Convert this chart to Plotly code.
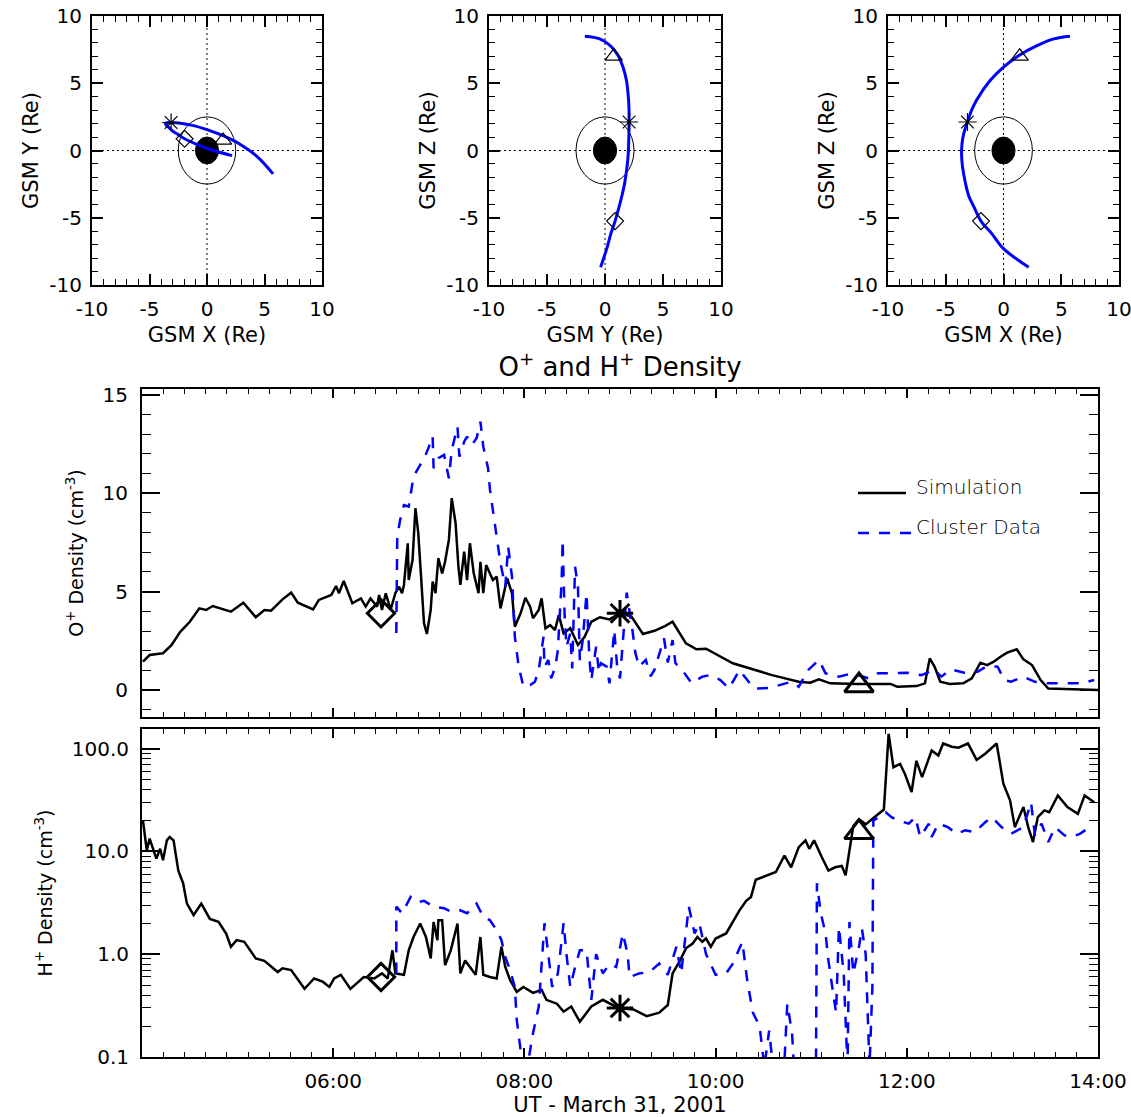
import plotly.graph_objects as go

W, H = 1131, 1117
FONT = "DejaVu Sans"

# ---------------- Cluster orbit (GSM, Re), ordered in time ----------------
orbit_x = [2.18, 0.0, -1.0, -1.95, -2.5, -3.0, -3.3, -3.55, -3.63, -3.58, -3.43, -3.12, -2.76,
           -2.3, -1.16, 0.0, 1.4, 2.9, 4.36, 5.75]
orbit_y = [-0.38, 0.15, 0.5, 0.87, 1.18, 1.45, 1.7, 1.9, 2.0, 2.04, 2.06, 2.08, 2.07,
           2.03, 1.85, 1.55, 1.1, 0.45, -0.45, -1.74]
orbit_z = [-8.68, -7.3, -6.2, -5.25, -4.3, -3.4, -2.4, -1.2, -0.3, 0.6, 1.3, 2.12, 3.0,
           3.8, 5.2, 6.2, 7.1, 7.8, 8.3, 8.5]

# Reference times (06:30, 09:00, 11:30 UT) and the spacecraft position there
event_time = [6.5, 9.0, 11.5]
event_symbol = ["diamond", "asterisk-open", "triangle-up"]
event_x = [-1.95, -3.12, 1.4]
event_y = [0.87, 2.08, 0.75]
event_z = [-5.25, 2.12, 7.0]
event_oplus = [3.9, 3.9, 0.23]
event_hplus = [0.60, 0.30, 15.3]

EARTH_R = 1.0      # Earth radius (Re)
INNER_R = 2.5      # reference shell (Re)

# ---------------- O+ density (cm^-3), time in decimal UT hours ----------------
sim_o_t = [4.01, 4.08, 4.22, 4.31, 4.40, 4.50, 4.60, 4.67, 4.74, 4.93, 5.06, 5.19, 5.28, 5.35,
           5.47, 5.56, 5.63, 5.79, 5.85, 5.98, 6.03, 6.06, 6.11, 6.20, 6.29, 6.34, 6.39, 6.46,
           6.48, 6.51, 6.55, 6.60, 6.65, 6.69, 6.72, 6.74, 6.78, 6.79, 6.83, 6.86, 6.89, 6.91,
           6.95, 6.98, 7.02, 7.04, 7.07, 7.10, 7.14, 7.17, 7.21, 7.24, 7.28, 7.31, 7.33, 7.37,
           7.40, 7.43, 7.47, 7.52, 7.54, 7.57, 7.60, 7.67, 7.71, 7.75, 7.80, 7.82, 7.87, 7.90,
           7.96, 8.01, 8.06, 8.09, 8.15, 8.18, 8.22, 8.27, 8.32, 8.36, 8.41, 8.48, 8.56, 8.63,
           8.70, 8.79, 8.89, 9.00, 9.12, 9.24, 9.36, 9.47, 9.55, 9.69, 9.80, 9.90, 10.18, 10.35,
           10.59, 10.87, 10.99, 11.08, 11.20, 11.48, 11.83, 11.90, 12.10, 12.19, 12.24, 12.29,
           12.35, 12.45, 12.59, 12.68, 12.77, 12.84, 12.91, 12.98, 13.05, 13.15, 13.22, 13.31,
           13.40, 13.48, 14.00]
sim_o_n = [1.44, 1.78, 1.87, 2.29, 2.96, 3.47, 4.15, 4.07, 4.27, 3.98, 4.44, 3.70, 4.07, 4.03,
           4.61, 4.95, 4.44, 4.10, 4.58, 4.83, 5.29, 4.92, 5.54, 4.41, 4.66, 4.24, 4.66, 4.24,
           4.83, 4.07, 4.92, 4.07, 4.92, 5.25, 4.92, 5.34, 7.46, 5.59, 6.61, 9.24, 7.97, 6.27,
           3.39, 2.85, 4.07, 5.51, 4.92, 6.70, 5.93, 6.52, 7.63, 9.75, 8.48, 6.27, 5.34, 7.03,
           5.59, 7.46, 5.93, 4.92, 6.52, 4.92, 6.35, 5.59, 5.76, 4.15, 5.34, 5.68, 4.92, 3.22,
           3.90, 4.69, 4.24, 3.65, 4.07, 4.66, 3.14, 3.30, 3.05, 3.81, 2.88, 3.14, 2.29, 2.71,
           3.47, 3.70, 3.59, 3.90, 3.73, 2.85, 3.01, 3.25, 3.47, 2.37, 2.07, 2.10, 1.36, 1.10,
           0.76, 0.42, 0.37, 0.54, 0.34, 0.31, 0.31, 0.17, 0.20, 0.34, 1.61, 1.19,
           0.42, 0.31, 0.34, 0.59, 1.39, 1.27, 1.44, 1.69, 1.90, 2.07, 1.56, 1.27,
           0.51, 0.08, 0.00]

clu_o_t = [6.66, 6.67, 6.70, 6.74, 6.79, 6.84, 6.91, 6.96, 7.02, 7.04, 7.05, 7.10, 7.16, 7.21,
           7.24, 7.30, 7.32, 7.37, 7.40, 7.45, 7.50, 7.54, 7.57, 7.62, 7.64, 7.68, 7.71, 7.75,
           7.80, 7.83, 7.87, 7.90, 7.94, 7.99, 8.06, 8.11, 8.15, 8.20, 8.21, 8.25, 8.28, 8.30,
           8.33, 8.35, 8.39, 8.40, 8.42, 8.44, 8.48, 8.50, 8.53, 8.56, 8.58, 8.61, 8.65, 8.68,
           8.70, 8.75, 8.78, 8.80, 8.86, 8.89, 8.94, 8.97, 9.00, 9.07, 9.13, 9.16, 9.20, 9.27,
           9.32, 9.36, 9.46, 9.50, 9.55, 9.58, 9.65, 9.75, 9.86, 9.94,
           10.05, 10.14, 10.25, 10.40, 10.56, 10.68, 10.79, 10.87, 10.97, 11.08, 11.15, 11.29,
           11.43, 11.60, 11.70, 11.84, 12.01, 12.15, 12.29, 12.36, 12.46, 12.60, 12.74, 12.84,
           12.95, 13.02, 13.09, 13.22, 13.34, 13.48, 13.65, 13.82, 13.96]
clu_o_n = [2.90, 7.80, 8.64, 9.40, 9.32, 10.85, 11.44, 11.86, 12.60, 12.90, 11.27, 11.78, 11.95, 10.76,
           12.20, 13.39, 11.86, 12.62, 12.88, 12.46, 12.80, 13.64, 12.37, 11.27, 10.17, 8.81, 7.63, 6.44,
           5.25, 7.29, 5.76, 2.71, 1.19, 0.17, 0.25, 0.42, 1.02, 2.71, 1.19, 1.53, 0.60, 0.85,
           1.40, 2.03, 5.59, 7.63, 3.90, 2.20, 2.88, 1.10, 6.27, 5.25, 1.50, 2.54, 4.92, 1.60,
           0.51, 2.20, 0.90, 1.36, 1.19, 0.34, 3.05, 1.20, 0.59, 4.95, 3.05, 1.90, 1.19, 1.53,
           0.70, 1.02, 2.63, 1.40, 2.54, 1.36, 1.02, 0.34, 0.68, 0.76,
           0.51, 0.08, 1.02, 0.08, 0.10, 0.25, 0.42, 0.17, 1.02, 1.53, 0.85, 0.68,
           0.85, 0.59, 0.85, 0.85, 0.88, 0.76, 1.02, 0.68, 1.05, 0.88, 0.93, 1.22,
           1.19, 0.51, 0.42, 0.68, 0.42, 0.34, 0.34, 0.34, 0.51]

# ---------------- H+ density (cm^-3) ----------------
sim_h_t = [4.01, 4.05, 4.08, 4.12, 4.15, 4.19, 4.22, 4.26, 4.29, 4.33, 4.38, 4.43, 4.47, 4.54,
           4.62, 4.71, 4.80, 4.88, 4.93, 4.99, 5.07, 5.19, 5.28, 5.42, 5.47, 5.56, 5.70, 5.80,
           5.89, 5.96, 6.01, 6.08, 6.18, 6.32, 6.43, 6.51, 6.57, 6.62, 6.65, 6.74, 6.79, 6.84,
           6.91, 6.97, 7.02, 7.05, 7.09, 7.10, 7.14, 7.17, 7.23, 7.30, 7.33, 7.38, 7.43, 7.49,
           7.54, 7.57, 7.64, 7.71, 7.76, 7.80, 7.85, 7.92, 7.99, 8.09, 8.18, 8.23, 8.34, 8.41,
           8.49, 8.58, 8.70, 8.82, 8.98, 9.14, 9.28, 9.41, 9.50, 9.55, 9.62, 9.69, 9.76, 9.81,
           9.86, 9.90, 9.95, 10.00, 10.11, 10.18, 10.25, 10.32, 10.37, 10.42, 10.53, 10.63, 10.72,
           10.79, 10.87, 10.94, 10.98, 11.03, 11.11, 11.18, 11.25, 11.32, 11.36, 11.44, 11.50,
           11.57, 11.67, 11.76, 11.81, 11.86, 11.93, 11.98, 12.05, 12.10, 12.16, 12.21, 12.26,
           12.33, 12.38, 12.47, 12.54, 12.64, 12.73, 12.82, 12.94, 13.01, 13.08, 13.13, 13.22,
           13.27, 13.32, 13.37, 13.44, 13.49, 13.58, 13.68, 13.79, 13.86, 13.96]
sim_h_n = [20.0, 10.2, 13.3, 10.2, 8.5, 10.6, 8.2, 12.8, 13.8, 12.8, 6.5, 4.9, 3.1, 2.4,
           3.1, 2.2, 2.06, 1.59, 1.18, 1.37, 1.32, 0.91, 0.86, 0.67, 0.73, 0.70, 0.46, 0.58,
           0.54, 0.48, 0.58, 0.63, 0.46, 0.60, 0.58, 0.65, 0.58, 1.09, 0.65, 0.63, 1.09, 1.47,
           1.99, 1.47, 0.91, 2.06, 1.37, 2.14, 2.14, 0.78, 1.09, 1.99, 0.65, 0.87, 0.75, 0.63,
           1.47, 0.63, 0.60, 0.58, 1.18, 0.75, 0.56, 0.43, 0.48, 0.42, 0.45, 0.36, 0.33, 0.276,
           0.31, 0.22, 0.31, 0.36, 0.30, 0.29, 0.25, 0.27, 0.32, 0.65, 0.84, 1.14, 1.27, 1.47,
           1.32, 1.42, 1.18, 1.42, 1.59, 2.06, 2.67, 3.3, 3.6, 5.3, 5.85, 6.3, 9.1,
           7.0, 11.0, 12.8, 10.6, 12.8, 8.8, 6.5, 7.0, 7.2, 5.85, 17.6, 20.5,
           18.3, 21.8, 25.5, 139.0, 65.8, 71.0, 56.7, 37.8, 76.0, 52.7, 71.0, 95.7,
           85.5, 112.0, 104.0, 102.0, 112.0, 77.5, 89.0, 112.0, 45.5, 31.3, 17.2, 27.0,
           17.2, 12.3, 21.5, 25.0, 24.0, 35.0, 27.0, 23.2, 35.0, 30.0]

clu_h_t = [6.66, 6.66, 6.72, 6.81, 6.88, 6.95, 7.05, 7.16, 7.23, 7.33, 7.40, 7.50, 7.57, 7.64,
           7.71, 7.76, 7.80, 7.85, 7.90, 7.92, 7.96, 7.99, 8.04, 8.09, 8.15, 8.18, 8.21, 8.25,
           8.29, 8.35, 8.41, 8.44, 8.48, 8.53, 8.58, 8.65, 8.70, 8.75, 8.82, 8.89, 8.96, 9.03,
           9.08, 9.10, 9.20, 9.31, 9.41, 9.50, 9.59, 9.64, 9.67, 9.72, 9.78, 9.83, 9.90, 10.00,
           10.11, 10.18, 10.28, 10.33, 10.39, 10.46, 10.51, 10.56, 10.60, 10.72, 10.75, 10.80,
           10.82, 11.05, 11.06, 11.10, 11.15, 11.18, 11.22, 11.26, 11.29, 11.34, 11.38, 11.40,
           11.44, 11.50, 11.53, 11.57, 11.61, 11.64, 11.65, 11.71, 11.78, 11.84, 11.91, 12.02,
           12.09, 12.14, 12.23, 12.26, 12.33, 12.43, 12.52, 12.61, 12.71, 12.82, 12.89, 12.99,
           13.09, 13.22, 13.30, 13.34, 13.41, 13.48, 13.55, 13.65, 13.72, 13.81, 13.89, 13.96]
clu_h_n = [0.65, 2.9, 2.5, 3.6, 3.2, 3.3, 2.9, 2.8, 2.6, 2.67, 2.5, 3.1, 2.3, 2.14,
           1.71, 1.37, 0.94, 0.70, 0.48, 0.23, 0.117, 0.08, 0.09, 0.17, 0.31, 0.87, 2.0, 1.0,
           0.48, 0.65, 2.0, 1.0, 0.48, 0.75, 1.09, 1.09, 0.36, 1.0, 0.65, 0.80, 0.75, 1.59,
           1.0, 0.60, 0.65, 0.67, 0.81, 0.63, 1.18, 0.65, 1.09, 2.9, 1.59, 2.0, 1.0, 0.63,
           0.65, 0.81, 1.32, 0.56, 0.27, 0.20, 0.08, 0.18, 0.08, 0.09, 0.33, 0.17,
           0.08, 0.08, 4.9, 2.5, 1.59, 0.87, 0.48, 0.27, 1.84, 0.65, 0.08, 2.06,
           0.65, 1.18, 1.78, 1.0, 0.08, 0.48, 20.0, 21.5, 24.0, 21.5, 20.0, 18.6,
           21.5, 13.8, 18.6, 13.8, 18.6, 17.2, 14.8, 16.0, 15.4, 19.2, 21.5, 17.2,
           14.8, 17.2, 30.0, 14.3, 18.6, 12.3, 17.2, 14.3, 13.8, 14.8, 16.6, 17.9]

gsm_tickvals = [-10, -5, 0, 5, 10]
gsm_ticktext = ["-10", "-5", "0", "5", "10"]
time_tickvals = [6, 8, 10, 12, 14]
time_ticktext = ["06:00", "08:00", "10:00", "12:00", "14:00"]
h_tickvals = [0.1, 1, 10, 100]
h_ticktext = ["0.1", "1.0", "10.0", "100.0"]
h_minor = [m * d for d in (0.1, 1, 10, 100) for m in range(2, 10)]


def fx(px):
    return px / W


def fy(py):
    return 1 - py / H


def event_markers(sizes, width):
    # hollow black symbols: transparent fill, black outline
    return dict(symbol=event_symbol, size=sizes, color=["rgba(0,0,0,0)", "black", "rgba(0,0,0,0)"],
                opacity=1, line=dict(color="black", width=width))


fig = go.Figure()

# ---------------- orbit panels ----------------
panels = [
    ("x", "y", orbit_x, orbit_y, event_x, event_y, "GSM X (Re)", "GSM Y (Re)", (92, 322)),
    ("x2", "y2", orbit_y, orbit_z, event_y, event_z, "GSM Y (Re)", "GSM Z (Re)", (489, 721)),
    ("x3", "y3", orbit_x, orbit_z, event_x, event_z, "GSM X (Re)", "GSM Z (Re)", (888, 1119)),
]

shapes = []
for i, (xa, ya, ox, oy, ex, ey, xt, yt, (l, r)) in enumerate(panels):
    fig.add_trace(go.Scatter(x=ox, y=oy, xaxis=xa, yaxis=ya, mode="lines",
                             line=dict(color="#0000ff", width=3, shape="spline", smoothing=1.0),
                             showlegend=False, hoverinfo="skip"))
    fig.add_trace(go.Scatter(x=ex, y=ey, xaxis=xa, yaxis=ya, mode="markers",
                             marker=event_markers([13, 15, 15], 1.2),
                             showlegend=False, hoverinfo="skip"))
    shapes += [
        dict(type="line", xref=xa, yref=ya, x0=-10, x1=10, y0=0, y1=0, layer="below",
             line=dict(color="black", width=1, dash="2px,3px")),
        dict(type="line", xref=xa, yref=ya, x0=0, x1=0, y0=-10, y1=10, layer="below",
             line=dict(color="black", width=1, dash="2px,3px")),
        dict(type="circle", xref=xa, yref=ya, x0=-INNER_R, x1=INNER_R, y0=-INNER_R, y1=INNER_R,
             layer="below", line=dict(color="black", width=1)),
        dict(type="circle", xref=xa, yref=ya, x0=-EARTH_R, x1=EARTH_R, y0=-EARTH_R, y1=EARTH_R,
             layer="below", fillcolor="black", line=dict(color="black", width=1)),
    ]
    sfx = "" if i == 0 else str(i + 1)
    common = dict(range=[-10, 10], showline=True, linecolor="black", linewidth=2, mirror="ticks",
                  ticks="inside", ticklen=11, tickwidth=1.5, tickcolor="black",
                  tickvals=gsm_tickvals, ticktext=gsm_ticktext, showgrid=False, zeroline=False,
                  tickfont=dict(family=FONT, size=20, color="black"),
                  minor=dict(ticks="inside", ticklen=6, tickwidth=1.2, dtick=1, tickcolor="black",
                             showgrid=False))
    fig.layout["xaxis" + sfx] = dict(common, domain=[fx(l), fx(r)], anchor=ya, ticklabelstandoff=5,
                                     ticklabeloverflow="allow",
                                     title=dict(text=xt, standoff=7,
                                                font=dict(family=FONT, size=21, color="black")))
    fig.layout["yaxis" + sfx] = dict(common, domain=[fy(285), fy(16)], anchor=xa,
                                     ticklabelstandoff=4,
                                     title=dict(text=yt, standoff=5,
                                                font=dict(family=FONT, size=21, color="black")))

# ---------------- O+ density ----------------
fig.add_trace(go.Scatter(x=sim_o_t, y=sim_o_n, xaxis="x4", yaxis="y4", mode="lines",
                         line=dict(color="black", width=2.5), name="Simulation",
                         showlegend=False, hoverinfo="skip"))
fig.add_trace(go.Scatter(x=clu_o_t, y=clu_o_n, xaxis="x4", yaxis="y4", mode="lines",
                         line=dict(color="#0000ff", width=2.5, dash="11px,10px"), name="Cluster Data",
                         showlegend=False, hoverinfo="skip"))
fig.add_trace(go.Scatter(x=event_time, y=event_oplus, xaxis="x4", yaxis="y4", mode="markers",
                         marker=event_markers([21, 22, 25], 3),
                         showlegend=False, hoverinfo="skip"))

# ---------------- H+ density ----------------
fig.add_trace(go.Scatter(x=sim_h_t, y=sim_h_n, xaxis="x5", yaxis="y5", mode="lines",
                         line=dict(color="black", width=2.5), showlegend=False, hoverinfo="skip"))
fig.add_trace(go.Scatter(x=clu_h_t, y=clu_h_n, xaxis="x5", yaxis="y5", mode="lines",
                         line=dict(color="#0000ff", width=2.5, dash="11px,10px"),
                         showlegend=False, hoverinfo="skip"))
fig.add_trace(go.Scatter(x=event_time, y=event_hplus, xaxis="x5", yaxis="y5", mode="markers",
                         marker=event_markers([21, 22, 25], 3),
                         showlegend=False, hoverinfo="skip"))

tfont = dict(family=FONT, size=20, color="black")
time_axis = dict(range=[4.0, 14.0], showline=True, linecolor="black", linewidth=2, mirror="ticks",
                 ticks="inside", ticklen=9, tickwidth=1.5, tickcolor="black",
                 tickvals=time_tickvals, ticktext=time_ticktext, showgrid=False, zeroline=False,
                 tickfont=tfont, ticklabeloverflow="allow",
                 minor=dict(ticks="inside", ticklen=5, tickwidth=1.2, dtick=2 / 9, tick0=0,
                            tickcolor="black", showgrid=False))
fig.layout.xaxis4 = dict(time_axis, domain=[fx(142), fx(1098)], anchor="y4", showticklabels=False)
fig.layout.xaxis5 = dict(time_axis, domain=[fx(142), fx(1098)], anchor="y5", ticklabelstandoff=5,
                         title=dict(text="UT - March 31, 2001", standoff=2,
                                    font=dict(family=FONT, size=21, color="black")))
fig.layout.yaxis4 = dict(domain=[fy(717), fy(389)], anchor="x4", range=[-1.37, 15.3],
                         showline=True, linecolor="black", linewidth=2, mirror="ticks",
                         ticks="inside", ticklen=18, tickwidth=1.5, tickcolor="black",
                         tickvals=[0, 5, 10, 15], showgrid=False, zeroline=False, tickfont=tfont,
                         ticklabelstandoff=8,
                         minor=dict(ticks="inside", ticklen=9, tickwidth=1.2, dtick=1,
                                    tickcolor="black", showgrid=False),
                         title=dict(text="O<sup>+</sup> Density (cm<sup>-3</sup>)", standoff=14,
                                    font=dict(family=FONT, size=19, color="black")))
fig.layout.yaxis5 = dict(domain=[fy(1057), fy(729)], anchor="x5", type="log", range=[-1.0, 2.19],
                         showline=True, linecolor="black", linewidth=2, mirror="ticks",
                         ticks="inside", ticklen=18, tickwidth=1.5, tickcolor="black",
                         tickvals=h_tickvals, ticktext=h_ticktext, showgrid=False, zeroline=False,
                         tickfont=tfont, ticklabelstandoff=7,
                         minor=dict(ticks="inside", ticklen=9, tickwidth=1.2, tickmode="array",
                                    tickvals=h_minor, tickcolor="black", showgrid=False),
                         title=dict(text="H<sup>+</sup> Density (cm<sup>-3</sup>)", standoff=14,
                                    font=dict(family=FONT, size=19, color="black")))

# ---------------- legend (O+ panel) ----------------
shapes += [
    dict(type="line", xref="paper", yref="paper", x0=fx(858), x1=fx(906), y0=fy(493), y1=fy(493),
         line=dict(color="black", width=2.5)),
    dict(type="line", xref="paper", yref="paper", x0=fx(858), x1=fx(920), y0=fy(533), y1=fy(533),
         line=dict(color="#0000ff", width=2.5, dash="11px,10px")),
]
legend_font = dict(family="DejaVu Sans", size=20, color="black", weight=200)
annotations = [
    dict(text="Simulation", x=fx(914), y=fy(487), xref="paper", yref="paper",
         xanchor="left", yanchor="middle", showarrow=False, font=legend_font),
    dict(text="Cluster Data", x=fx(914), y=fy(527), xref="paper", yref="paper",
         xanchor="left", yanchor="middle", showarrow=False, font=legend_font),
]

fig.update_layout(
    width=W, height=H, margin=dict(l=0, r=0, t=0, b=0, autoexpand=False),
    paper_bgcolor="white", plot_bgcolor="white",
    title=dict(text="O<sup>+</sup> and H<sup>+</sup> Density", x=fx(620), y=fy(367),
               xanchor="center", yanchor="middle", font=dict(family=FONT, size=26, color="black")),
    shapes=shapes, annotations=annotations, showlegend=False,
)

fig.write_html("out.html")
